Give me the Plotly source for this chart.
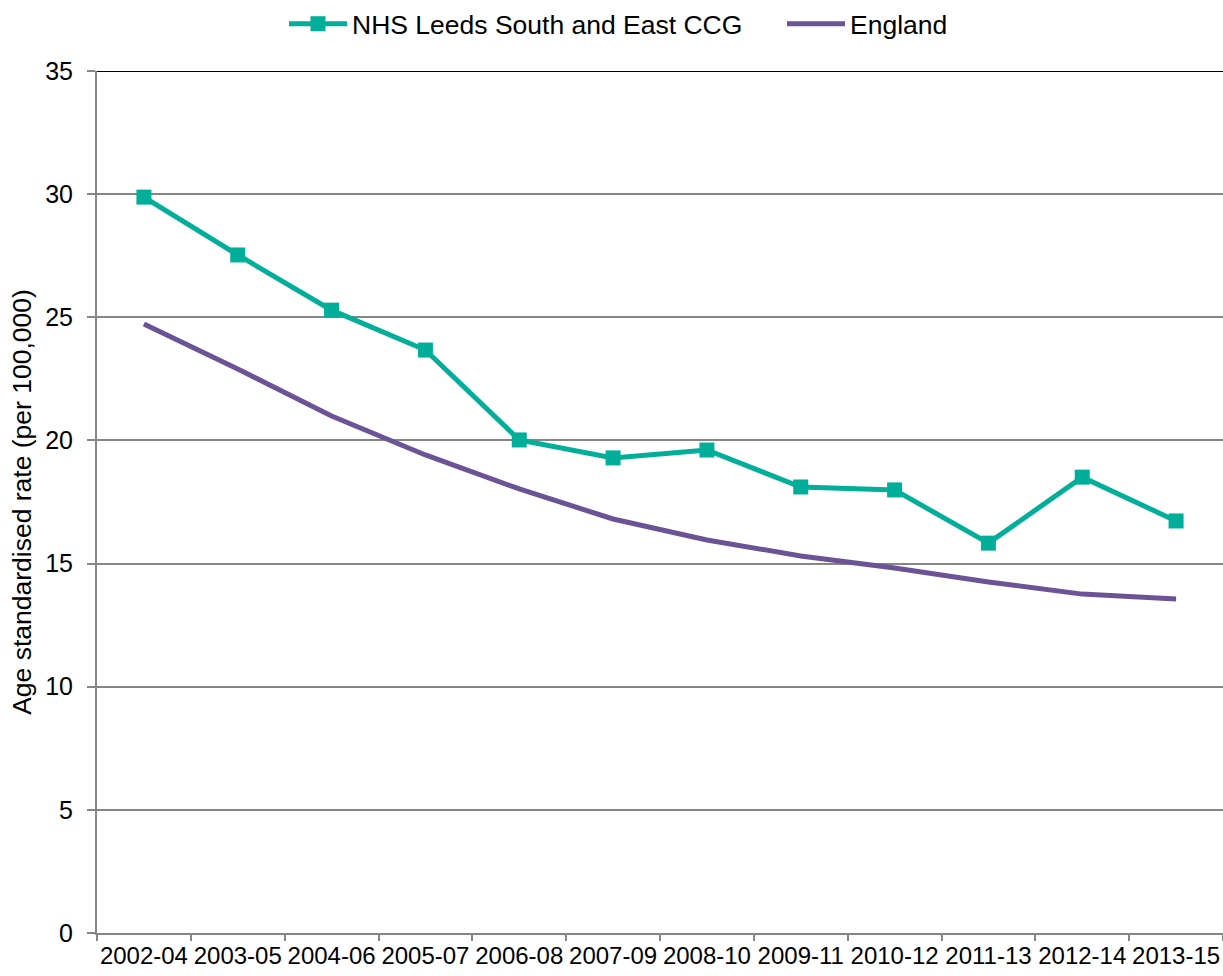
import plotly.graph_objects as go

periods = ["2002-04", "2003-05", "2004-06", "2005-07", "2006-08", "2007-09",
           "2008-10", "2009-11", "2010-12", "2011-13", "2012-14", "2013-15"]
leeds_se = [29.88, 27.53, 25.29, 23.67, 20.02, 19.29, 19.61, 18.11, 17.99, 15.83, 18.51, 16.73]
england = [24.73, 22.90, 20.99, 19.41, 18.03, 16.81, 15.96, 15.31, 14.82, 14.25, 13.76, 13.56]

teal = "#00AE9A"
purple = "#6B5395"
grid = "#868686"
font = "Liberation Sans, Arial, sans-serif"

fig = go.Figure()
fig.add_trace(go.Scatter(x=periods, y=leeds_se, name="NHS Leeds South and East CCG",
                         mode="lines+markers", legend="legend",
                         line=dict(color=teal, width=5),
                         marker=dict(symbol="square", size=15, color=teal)))
fig.add_trace(go.Scatter(x=periods, y=england, name="England", mode="lines",
                         legend="legend2",
                         line=dict(color=purple, width=5)))

fig.add_shape(type="line", xref="paper", yref="y", x0=0, x1=1, y0=35, y1=35,
              line=dict(color="black", width=2), layer="above")

legend_common = dict(orientation="h", xref="container", xanchor="left",
                     yref="container", y=1.0, yanchor="top",
                     bgcolor="rgba(0,0,0,0)",
                     font=dict(size=26.5), itemwidth=58, tracegroupgap=0)

fig.update_layout(
    width=1223, height=976,
    margin=dict(l=97, r=0, t=71, b=43, autoexpand=False),
    paper_bgcolor="white", plot_bgcolor="white",
    font=dict(family=font, size=24, color="black"),
    showlegend=True,
    legend=dict(x=284 / 1223, **legend_common),
    legend2=dict(x=782 / 1223, **legend_common),
    xaxis=dict(type="category", range=[-0.5, 11.5], showgrid=False,
               showline=True, linecolor=grid, linewidth=2, automargin=False,
               ticks="outside", tickson="boundaries", ticklen=6, tickcolor=grid,
               tickwidth=2, tickangle=0, tickfont=dict(size=24)),
    yaxis=dict(range=[0, 35], dtick=5, showgrid=True, gridcolor=grid, gridwidth=1.5,
               showline=True, linecolor=grid, linewidth=2, zeroline=False,
               automargin=False,
               ticks="outside", ticklen=8, tickcolor=grid, tickwidth=2,
               ticklabelstandoff=9,
               tickfont=dict(size=25),
               title=dict(text="Age standardised rate (per 100,000)", font=dict(size=26.5),
                          standoff=6)),
)

fig.write_html("out.html", post_script="document.body.style.margin='0';",
               config={"displayModeBar": False})
